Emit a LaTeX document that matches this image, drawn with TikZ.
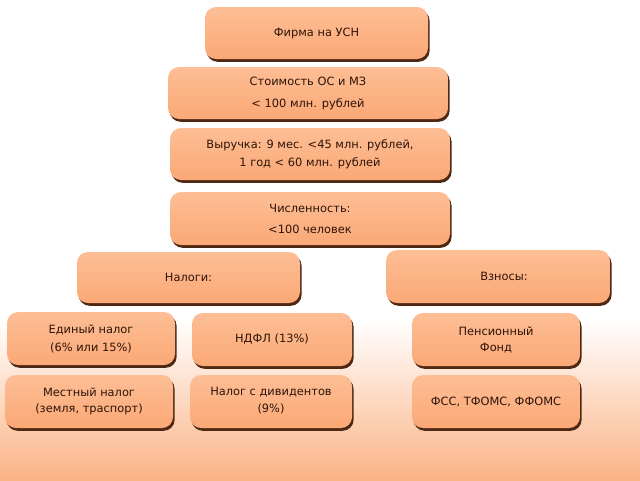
\documentclass[tikz,border=0pt]{standalone}
\usepackage{fontspec}
\setmainfont{DejaVu Sans}
\definecolor{boxtop}{HTML}{FDBE95}
\definecolor{boxbot}{HTML}{FBA876}
\definecolor{shadowc}{HTML}{4E2812}
\definecolor{txtc}{HTML}{2E1408}
\definecolor{bgbot}{HTML}{FBB385}
\begin{document}
\begin{tikzpicture}[x=1pt,y=-1pt,
  pbox/.style={rounded corners=11pt, top color=boxtop, bottom color=boxbot,
    draw=none, text=txtc, align=center, inner sep=0pt, anchor=center,
    font=\fontsize{11.4}{#1}\selectfont,
    preaction={fill=shadowc, transform canvas={xshift=1.6pt,yshift=-2.8pt}}},
  pbox/.default=16pt]
\useasboundingbox (0,0) rectangle (640,480);
\fill[white] (0,0) rectangle (640,480);
\shade[top color=white, bottom color=bgbot] (0,320) rectangle (640,480);
% top column
\node[pbox, minimum width=223pt, minimum height=52pt] (firm) at (316.5,33) {Фирма на УСН};
\node[pbox=22pt, minimum width=280pt, minimum height=52pt] (cost) at (308,93) {Стоимость ОС и МЗ\\< 100 млн. рублей};
\node[pbox=18pt, minimum width=280pt, minimum height=52pt] (rev) at (310,154) {Выручка: 9 мес. <45 млн. рублей,\\1 год < 60 млн. рублей};
\node[pbox=21pt, minimum width=280pt, minimum height=53pt] (staff) at (310,218.5) {Численность:\\<100 человек};
% taxes
\node[pbox, minimum width=223pt, minimum height=51pt] (tax) at (188.5,277.5) {Налоги:};
\node[pbox=18pt, minimum width=168pt, minimum height=53pt] (single) at (91,338.5) {Единый налог\\(6\% или 15\%)};
\node[pbox, minimum width=160pt, minimum height=53pt] (ndfl) at (272,339.5) {НДФЛ (13\%)};
\node[pbox, minimum width=168pt, minimum height=53pt] (local) at (89,401.5) {Местный налог\\(земля, траспорт)};
\node[pbox=17.5pt, minimum width=162pt, minimum height=53pt] (div) at (271,401.5) {Налог с дивидентов\\(9\%)\rule[-3pt]{0pt}{0pt}};
% contributions
\node[pbox, minimum width=224pt, minimum height=53pt] (contr) at (498,276.5) {\hspace*{12pt}Взносы:};
\node[pbox, minimum width=168pt, minimum height=53pt] (pens) at (496,339.5) {Пенсионный\\Фонд};
\node[pbox, minimum width=168pt, minimum height=53pt] (fss) at (496,401.5) {ФСС, ТФОМС, ФФОМС};
\end{tikzpicture}
\end{document}
